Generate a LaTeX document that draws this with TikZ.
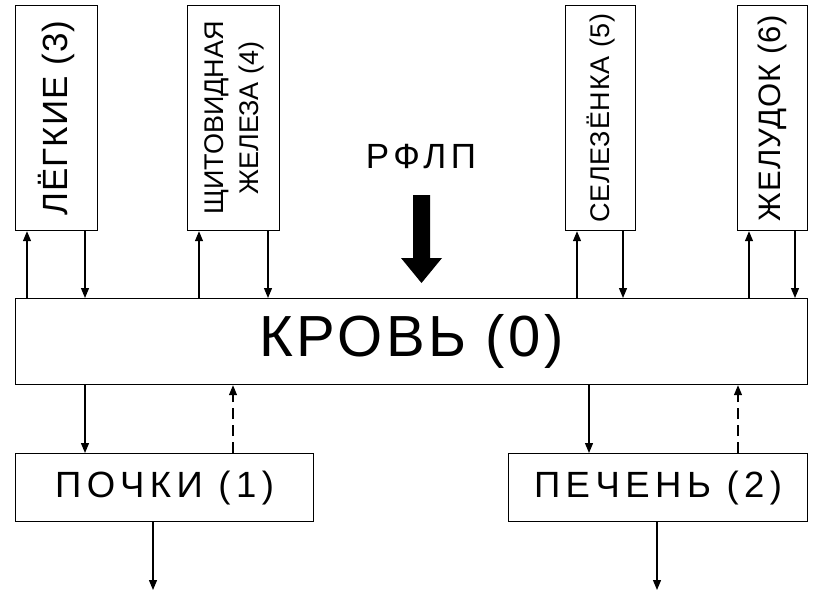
\documentclass[tikz,border=0pt]{standalone}
\usepackage{fontspec}
\setmainfont{Liberation Sans}
\usetikzlibrary{arrows.meta,calc}
\newfontfamily\spA[LetterSpace=6]{Liberation Sans}
\newfontfamily\spB[LetterSpace=15]{Liberation Sans}
\newfontfamily\spR[LetterSpace=13]{Liberation Sans}
\newfontfamily\spC[LetterSpace=3]{Liberation Sans}
\begin{document}
\begin{tikzpicture}[x=1pt,y=-1pt,
  box/.style={draw,line width=1.2pt,inner sep=0pt,anchor=north west},
  arr/.style={line width=1.2pt,-{Triangle[length=10pt,width=8pt]}},
  darr/.style={arr,dash pattern=on 11pt off 6pt}]
\useasboundingbox (0,0) rectangle (821,594);
% top organs
\node[box,minimum width=82pt,minimum height=225pt] (lungs) at (15,5)
  {\rotatebox{90}{\fontsize{35}{40}\spC ЛЁГКИЕ (3)}};
\node[box,minimum width=92pt,minimum height=225pt] (thyr) at (187,5)
  {\rotatebox{90}{\fontsize{27}{35}\selectfont\begin{tabular}{@{}c@{}}ЩИТОВИДНАЯ\\ЖЕЛЕЗА (4)\end{tabular}}};
\node[box,minimum width=70pt,minimum height=225pt] (spleen) at (565,5)
  {\rotatebox{90}{\fontsize{27}{30}\spC СЕЛЕЗЁНКА (5)}};
\node[box,minimum width=70pt,minimum height=225pt] (stom) at (737,5)
  {\rotatebox{90}{\fontsize{31}{35}\spC ЖЕЛУДОК (6)}};
% blood
\node[box,minimum width=792pt,minimum height=86pt] (blood) at (15,298)
  {\fontsize{58}{64}\spA КРОВЬ (0)};
% kidney, liver
\node[box,minimum width=298pt,minimum height=68pt] (kid) at (15,453)
  {\fontsize{36.5}{40}\spB ПОЧКИ (1)};
\node[box,minimum width=299pt,minimum height=68pt] (liv) at (508,453)
  {\fontsize{36.5}{40}\spB ПЕЧЕНЬ (2)};
% RFLP
\node (rflp) at (421,157) {\fontsize{35}{40}\spR РФЛП};
\fill (413,195) -- (430,195) -- (430,258) -- (442,258) -- (421.5,283) -- (401,258) -- (413,258) -- cycle;
% coordinates
\coordinate (l1) at (27,0); \coordinate (l2) at (85,0);
\coordinate (t1) at (199,0); \coordinate (t2) at (268,0);
\coordinate (s1) at (577,0); \coordinate (s2) at (623,0);
\coordinate (g1) at (749,0); \coordinate (g2) at (795,0);
\coordinate (k1) at (85,0); \coordinate (k2) at (233,0); \coordinate (k3) at (153,0);
\coordinate (p1) at (589,0); \coordinate (p2) at (738,0); \coordinate (p3) at (657,0);
\coordinate (kout) at (153,590); \coordinate (pout) at (657,590);
% arrows top
\draw[arr] (blood.north -| l1) -- (lungs.south -| l1);
\draw[arr] (lungs.south -| l2) -- (blood.north -| l2);
\draw[arr] (blood.north -| t1) -- (thyr.south -| t1);
\draw[arr] (thyr.south -| t2) -- (blood.north -| t2);
\draw[arr] (blood.north -| s1) -- (spleen.south -| s1);
\draw[arr] (spleen.south -| s2) -- (blood.north -| s2);
\draw[arr] (blood.north -| g1) -- (stom.south -| g1);
\draw[arr] (stom.south -| g2) -- (blood.north -| g2);
% arrows bottom
\draw[arr] (blood.south -| k1) -- (kid.north -| k1);
\draw[darr] (kid.north -| k2) -- (blood.south -| k2);
\draw[arr] (blood.south -| p1) -- (liv.north -| p1);
\draw[darr] (liv.north -| p2) -- (blood.south -| p2);
\draw[arr] (kid.south -| k3) -- (kout);
\draw[arr] (liv.south -| p3) -- (pout);
\end{tikzpicture}
\end{document}
